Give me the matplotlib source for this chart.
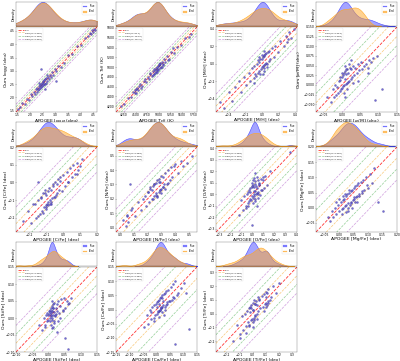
import numpy as np
import matplotlib
matplotlib.use("Agg")
import matplotlib.pyplot as plt
import seaborn as sns
from matplotlib.patches import Patch

# ---------------- data ----------------

logg_true = [1.52, 1.60, 1.70, 1.80, 1.90, 1.98, 2.05, 2.10, 2.15, 2.20,
             2.23, 2.26, 2.29, 2.32, 2.35, 2.37, 2.39, 2.41, 2.43, 2.45,
             2.46, 2.48, 2.50, 2.52, 2.53, 2.55, 2.57, 2.59, 2.61, 2.63,
             2.65, 2.68, 2.71, 2.74, 2.78, 2.82, 2.87, 2.92, 2.98, 3.05,
             3.12, 3.22, 3.35, 3.50, 3.68, 3.85, 4.02, 4.18, 4.30, 4.38,
             4.43, 4.47, 4.50, 4.53, 4.56, 2.44, 2.58, 2.36, 2.67, 3.02]
logg_pred = [1.55, 1.62, 1.78, 1.76, 1.95, 1.92, 2.12, 2.04, 2.22, 2.14,
             2.30, 2.20, 2.36, 2.26, 2.42, 2.30, 2.46, 2.35, 2.50, 2.40,
             2.55, 2.42, 2.58, 2.46, 2.62, 2.50, 2.64, 2.52, 2.70, 2.56,
             2.72, 2.62, 2.78, 2.68, 2.84, 2.76, 2.95, 2.85, 3.05, 2.98,
             3.18, 3.15, 3.30, 3.58, 3.62, 3.92, 3.98, 4.25, 4.32, 4.42,
             4.40, 4.52, 4.46, 4.58, 4.55, 3.08, 2.32, 2.55, 2.85, 2.62]

teff_true = [4180, 4260, 4330, 4400, 4450, 4490, 4520, 4560, 4600, 4640,
             4680, 4720, 4760, 4790, 4820, 4850, 4870, 4890, 4910, 4930,
             4945, 4960, 4975, 4990, 5005, 5020, 5035, 5050, 5070, 5090,
             5110, 5140, 5170, 5210, 5260, 5320, 5400, 5480, 5560, 5650,
             4480, 4510, 4540, 4925, 4955, 4985, 5015, 4900, 5060, 4880,
             4950, 5000, 4820, 5100, 4700, 5200, 4580, 4620, 5300, 5700]
teff_pred = [4200, 4240, 4360, 4380, 4490, 4470, 4560, 4540, 4650, 4610,
             4720, 4690, 4800, 4760, 4860, 4820, 4910, 4850, 4950, 4900,
             4990, 4930, 5020, 4960, 5050, 4990, 5080, 5010, 5110, 5060,
             5160, 5100, 5230, 5170, 5310, 5290, 5420, 5460, 5600, 5620,
             4530, 4470, 4580, 4880, 5010, 4940, 5070, 4960, 5000, 4840,
             4900, 5060, 4870, 5040, 4760, 5140, 4620, 4570, 5380, 5680]

mh_true = [-0.50, -0.45, -0.40, -0.36, -0.32, -0.28, -0.25, -0.22, -0.19, -0.16,
           -0.14, -0.12, -0.10, -0.09, -0.08, -0.07, -0.06, -0.05, -0.04, -0.03,
           -0.02, -0.01, 0.00, 0.00, 0.01, 0.01, 0.02, 0.02, 0.03, 0.03,
           0.04, 0.04, 0.05, 0.05, 0.06, 0.07, 0.08, 0.09, 0.10, 0.12,
           0.14, 0.16, 0.19, 0.22, 0.26, 0.29, 0.31, 0.33, 0.35, 0.38,
           -0.02, 0.00, 0.02, -0.05, 0.06, -0.10, 0.03, -0.03, 0.01, 0.30]
mh_pred = [-0.44, -0.50, -0.32, -0.42, -0.26, -0.20, -0.32, -0.15, -0.24, -0.10,
           -0.20, -0.05, -0.16, -0.02, -0.12, -0.14, 0.00, -0.10, 0.02, -0.08,
           0.05, -0.06, 0.06, -0.04, 0.08, -0.03, 0.09, -0.05, 0.10, -0.01,
           0.11, 0.00, 0.12, 0.01, 0.00, 0.14, 0.03, 0.15, 0.05, 0.18,
           0.08, 0.20, 0.14, 0.26, 0.20, 0.32, 0.28, 0.36, 0.30, 0.40,
           -0.12, 0.10, -0.08, 0.04, -0.04, -0.22, 0.15, 0.08, -0.12, 0.25]

am_true = [-0.04, -0.03, -0.025, -0.02, -0.018, -0.015, -0.012, -0.01, -0.008, -0.006,
           -0.004, -0.002, 0.0, 0.001, 0.002, 0.004, 0.005, 0.006, 0.008, 0.01,
           0.011, 0.012, 0.014, 0.015, 0.016, 0.018, 0.02, 0.022, 0.024, 0.026,
           0.028, 0.03, 0.033, 0.036, 0.04, 0.044, 0.048, 0.052, 0.056, 0.06,
           0.065, 0.07, 0.075, 0.08, 0.085, 0.09, 0.095, 0.11, 0.005, 0.01,
           0.0, 0.015, 0.02, -0.005, 0.03, 0.008, 0.012, 0.025, 0.045, 0.07]
am_pred = [-0.03, -0.045, -0.01, -0.03, 0.0, -0.025, -0.005, -0.02, 0.01, -0.015,
           0.012, -0.01, 0.02, -0.008, 0.025, -0.004, 0.03, 0.0, 0.015, 0.035,
           0.002, 0.028, 0.004, 0.04, 0.008, 0.032, 0.01, 0.045, 0.015, 0.04,
           0.02, 0.05, 0.025, 0.045, 0.03, 0.055, 0.038, 0.06, 0.042, 0.05,
           0.055, 0.045, 0.065, 0.06, 0.07, -0.04, 0.075, -0.01, -0.02, 0.05,
           0.03, -0.01, 0.055, 0.02, 0.005, -0.03, 0.04, 0.065, 0.01, 0.03]

cfe_true = [-0.24, -0.21, -0.19, -0.17, -0.16, -0.15, -0.14, -0.13, -0.125, -0.12,
            -0.115, -0.11, -0.105, -0.10, -0.10, -0.095, -0.09, -0.09, -0.085, -0.08,
            -0.075, -0.07, -0.065, -0.06, -0.055, -0.05, -0.045, -0.04, -0.035, -0.03,
            -0.025, -0.02, -0.01, 0.0, 0.01, 0.02, 0.03, 0.04, 0.05, 0.06,
            0.07, 0.08, 0.09, 0.10, 0.11, -0.12, -0.10, -0.08, -0.06, -0.11,
            -0.09, -0.07, -0.13, -0.05, -0.15, -0.02, 0.03, -0.18, 0.08, -0.15]
cfe_pred = [-0.22, -0.16, -0.23, -0.12, -0.20, -0.10, -0.18, -0.08, -0.16, -0.06,
            -0.14, -0.04, -0.13, -0.07, -0.15, -0.12, -0.05, -0.11, -0.03, -0.10,
            -0.12, -0.04, -0.09, -0.02, -0.08, 0.0, -0.07, -0.01, -0.06, 0.02,
            -0.04, 0.03, -0.05, 0.04, -0.02, 0.06, 0.0, 0.08, 0.03, 0.10,
            0.05, 0.11, 0.07, 0.09, 0.13, -0.17, -0.14, -0.12, -0.01, -0.06,
            -0.13, -0.11, -0.09, -0.08, -0.19, 0.01, 0.0, -0.12, 0.05, 0.0]

nfe_true = [0.02, 0.04, 0.05, 0.06, 0.07, 0.09, 0.11, 0.13, 0.15, 0.17,
            0.19, 0.20, 0.21, 0.22, 0.23, 0.24, 0.25, 0.25, 0.26, 0.26,
            0.27, 0.27, 0.28, 0.28, 0.29, 0.29, 0.30, 0.30, 0.31, 0.31,
            0.32, 0.33, 0.34, 0.35, 0.36, 0.37, 0.38, 0.40, 0.42, 0.44,
            0.46, 0.49, 0.52, 0.27, 0.25, 0.30, 0.22, 0.33, 0.28, 0.24,
            0.05, 0.08, 0.35, 0.20, 0.18, 0.26, 0.31, 0.29, 0.39, 0.23]
nfe_pred = [0.05, 0.01, 0.08, 0.04, 0.30, 0.14, 0.08, 0.18, 0.12, 0.20,
            0.15, 0.25, 0.18, 0.27, 0.20, 0.29, 0.22, 0.30, 0.24, 0.31,
            0.22, 0.33, 0.25, 0.34, 0.26, 0.32, 0.27, 0.36, 0.28, 0.35,
            0.30, 0.38, 0.30, 0.40, 0.33, 0.42, 0.35, 0.44, 0.38, 0.46,
            0.43, 0.45, 0.50, 0.21, 0.30, 0.24, 0.28, 0.27, 0.32, 0.20,
            0.09, 0.12, 0.31, 0.25, 0.22, 0.23, 0.28, 0.26, 0.43, 0.26]

ofe_true = [-0.12, -0.10, -0.08, -0.07, -0.06, -0.05, -0.04, -0.035, -0.03, -0.025,
            -0.02, -0.015, -0.01, -0.005, 0.0, 0.0, 0.005, 0.01, 0.01, 0.015,
            0.02, 0.02, 0.025, 0.025, 0.03, 0.03, 0.035, 0.04, 0.04, 0.045,
            0.05, 0.055, 0.06, 0.065, 0.07, 0.08, 0.09, 0.10, 0.11, 0.12,
            0.14, 0.16, 0.35, 0.02, 0.0, 0.03, 0.01, 0.05, -0.02, 0.04,
            0.015, 0.06, -0.04, 0.08, 0.025, 0.0, -0.06, 0.10, 0.035, 0.05]
ofe_pred = [-0.18, -0.05, -0.14, -0.02, -0.10, 0.0, -0.08, 0.02, -0.06, 0.04,
            -0.04, 0.05, -0.05, 0.06, -0.02, 0.10, 0.08, -0.03, 0.12, 0.0,
            0.14, -0.02, 0.09, 0.03, 0.11, -0.04, 0.07, 0.15, 0.01, 0.05,
            0.12, 0.0, 0.08, 0.10, -0.01, 0.13, 0.04, 0.15, 0.05, 0.16,
            0.08, 0.20, 0.37, 0.06, -0.27, 0.18, -0.08, 0.02, 0.02, -0.10,
            0.03, 0.09, -0.10, 0.04, -0.06, 0.07, -0.12, 0.12, 0.0, -0.03]

mgfe_true = [-0.04, -0.03, -0.025, -0.02, -0.015, -0.01, -0.005, 0.0, 0.005, 0.01,
             0.012, 0.015, 0.018, 0.02, 0.022, 0.025, 0.028, 0.03, 0.032, 0.035,
             0.038, 0.04, 0.042, 0.045, 0.048, 0.05, 0.052, 0.055, 0.058, 0.06,
             0.063, 0.066, 0.07, 0.074, 0.078, 0.082, 0.087, 0.092, 0.098, 0.105,
             0.112, 0.12, 0.15, 0.0, 0.01, 0.02, 0.03, 0.04, 0.05, 0.06,
             -0.01, 0.045, 0.035, 0.055, 0.025, 0.07, 0.08, 0.015, 0.10, 0.135]
mgfe_pred = [-0.03, -0.045, -0.01, -0.03, 0.0, -0.02, 0.01, -0.01, 0.02, -0.005,
             0.025, 0.0, 0.03, 0.005, 0.04, 0.01, 0.045, 0.015, 0.0, 0.05,
             0.01, 0.055, 0.02, 0.06, 0.025, 0.065, 0.03, 0.07, 0.035, 0.075,
             0.04, 0.08, 0.045, 0.085, 0.05, 0.09, 0.06, 0.10, 0.075, 0.11,
             0.08, 0.13, -0.01, 0.03, -0.02, 0.045, -0.01, 0.015, 0.035, 0.02,
             0.02, 0.0, 0.06, 0.02, -0.015, 0.04, 0.055, 0.04, 0.065, 0.02]

sife_true = [-0.03, -0.02, -0.015, -0.01, -0.008, -0.005, -0.003, 0.0, 0.002, 0.004,
             0.005, 0.006, 0.007, 0.008, 0.009, 0.01, 0.01, 0.011, 0.012, 0.013,
             0.014, 0.015, 0.016, 0.017, 0.018, 0.02, 0.022, 0.024, 0.026, 0.028,
             0.03, 0.033, 0.036, 0.04, 0.044, 0.048, 0.052, 0.056, 0.06, 0.065,
             0.07, 0.01, 0.012, 0.008, 0.015, 0.005, 0.02, 0.0, 0.025, 0.011,
             0.05, 0.06, 0.035, 0.014, 0.009, 0.03, -0.01, 0.045, 0.018, 0.003]
sife_pred = [-0.02, -0.035, 0.0, -0.02, 0.01, -0.01, 0.015, -0.005, 0.02, 0.0,
             0.025, -0.01, 0.03, 0.005, -0.02, 0.035, 0.0, 0.02, -0.005, 0.04,
             0.01, 0.028, -0.015, 0.018, 0.045, 0.005, 0.03, 0.012, 0.04, 0.02,
             0.05, 0.015, 0.035, 0.055, 0.025, 0.06, 0.03, 0.05, 0.04, 0.045,
             0.06, -0.03, 0.022, 0.015, -0.025, 0.018, 0.01, 0.01, -0.04, 0.05,
             -0.06, -0.09, 0.0, 0.03, 0.008, -0.01, -0.025, 0.02, -0.008, 0.012]

cafe_true = [-0.045, -0.035, -0.03, -0.025, -0.02, -0.015, -0.01, -0.008, -0.005, -0.002,
             0.0, 0.002, 0.004, 0.006, 0.008, 0.01, 0.012, 0.014, 0.016, 0.018,
             0.02, 0.022, 0.024, 0.026, 0.028, 0.03, 0.033, 0.036, 0.04, 0.044,
             0.048, 0.052, 0.056, 0.06, 0.065, 0.07, 0.075, 0.08, 0.09, 0.10,
             0.12, 0.07, 0.01, 0.02, 0.0, 0.015, 0.025, 0.005, 0.03, 0.012,
             0.04, -0.01, 0.05, 0.018, 0.022, 0.035, -0.02, 0.06, 0.008, 0.11]
cafe_pred = [-0.06, -0.02, -0.05, 0.0, -0.035, 0.01, -0.03, 0.015, -0.02, 0.02,
             -0.015, 0.025, -0.01, 0.03, -0.005, 0.035, 0.0, 0.04, 0.005, 0.045,
             0.01, 0.05, 0.015, 0.055, -0.02, 0.06, 0.0, 0.065, 0.02, 0.07,
             0.03, 0.08, 0.035, 0.09, 0.04, 0.10, 0.05, 0.06, 0.075, 0.095,
             -0.07, -0.12, 0.02, -0.01, 0.01, 0.005, 0.03, -0.005, 0.01, 0.0,
             0.025, -0.04, 0.03, 0.01, 0.04, 0.015, -0.01, 0.045, -0.025, 0.06]

tife_true = [-0.15, -0.12, -0.10, -0.08, -0.07, -0.06, -0.05, -0.04, -0.035, -0.03,
             -0.025, -0.02, -0.015, -0.01, -0.005, 0.0, 0.0, 0.005, 0.01, 0.01,
             0.015, 0.02, 0.025, 0.03, 0.035, 0.04, 0.045, 0.05, 0.06, 0.07,
             0.08, 0.09, 0.095, 0.10, 0.10, 0.105, 0.11, 0.115, 0.12, 0.13,
             0.14, 0.16, 0.18, 0.20, 0.0, -0.01, 0.01, 0.02, -0.02, 0.03,
             0.0, 0.10, -0.03, 0.05, 0.11, -0.05, 0.015, 0.09, -0.10, 0.12]
tife_pred = [-0.20, -0.08, -0.15, -0.02, -0.12, 0.0, -0.09, 0.02, -0.06, 0.04,
             -0.08, 0.05, -0.05, 0.06, -0.04, 0.08, -0.06, 0.03, 0.10, -0.03,
             0.07, -0.02, 0.09, 0.0, 0.06, 0.12, 0.02, 0.10, 0.04, 0.13,
             0.05, 0.14, 0.07, 0.16, 0.08, 0.12, 0.06, 0.18, 0.09, 0.10,
             0.12, 0.20, 0.15, 0.22, -0.10, 0.04, -0.05, 0.07, 0.01, -0.04,
             0.03, 0.05, -0.09, 0.11, 0.15, -0.14, -0.01, 0.02, -0.18, 0.08]

names  = [r"$\log g$", r"$T_{\rm eff}$", "[M/H]", r"[$\alpha$/M]", "[C/Fe]", "[N/Fe]",
          "[O/Fe]", "[Mg/Fe]", "[Si/Fe]", "[Ca/Fe]", "[Ti/Fe]"]
units  = ["dex", "K", "dex", "dex", "dex", "dex", "dex", "dex", "dex", "dex", "dex"]
sigmas = [0.097, 57.0, 0.068, 0.024, 0.047, 0.053, 0.068, 0.036, 0.026, 0.040, 0.063]
lims   = [(1.45, 4.65), (4080, 5820), (-0.55, 0.42), (-0.07, 0.15), (-0.28, 0.20),
          (-0.03, 0.56), (-0.33, 0.41), (-0.08, 0.20), (-0.10, 0.15), (-0.15, 0.15),
          (-0.28, 0.34)]
trues = [logg_true, teff_true, mh_true, am_true, cfe_true, nfe_true,
         ofe_true, mgfe_true, sife_true, cafe_true, tife_true]
preds = [logg_pred, teff_pred, mh_pred, am_pred, cfe_pred, nfe_pred,
         ofe_pred, mgfe_pred, sife_pred, cafe_pred, tife_pred]

# ---------------- figure ----------------

W, H = 400, 361
fig = plt.figure(figsize=(W / 20, H / 20), dpi=20)

C_TRUE = "#4a4aff"
C_PRED = "#ffa726"
sig_cols = ["#f5a623", "#4caf50", "#b05cc8"]

for i in range(len(names)):
    c, r = i % 4, i // 4
    x0 = c * 100 + 16
    top = r * 120 + 2
    kax = fig.add_axes([x0 / W, 1 - (top + 24) / H, 81 / W, 24 / H])
    sax = fig.add_axes([x0 / W, 1 - (top + 110) / H, 81 / W, 85 / H])

    t = np.array(trues[i], dtype=float)
    p = np.array(preds[i], dtype=float)
    lo, hi = lims[i]
    s = sigmas[i]

    # marginal KDEs
    sns.kdeplot(x=t, ax=kax, fill=True, color=C_TRUE, alpha=0.5, linewidth=2, bw_adjust=0.8)
    sns.kdeplot(x=p, ax=kax, fill=True, color=C_PRED, alpha=0.5, linewidth=2, bw_adjust=0.8)
    kax.set_xlim(lo, hi)
    kax.set_ylim(0, kax.get_ylim()[1] * 0.95)
    kax.set_xticks([]); kax.set_yticks([])
    kax.set_xlabel("")
    kax.set_ylabel("Density", fontsize=13, labelpad=2)
    kax.legend(handles=[Patch(color=C_TRUE, alpha=0.7, label="True"),
                        Patch(color=C_PRED, alpha=0.7, label="Pred")],
               loc="upper right", fontsize=9, frameon=True, handlelength=1.5)

    # scatter + reference lines
    xx = np.array([lo, hi])
    sax.plot(xx, xx, ls="--", color="red", lw=3, alpha=0.8, label="y=x")
    for k in range(1, 4):
        col = sig_cols[k - 1]
        lab = f"±{k}σ (σ={k * s:.3f})" if units[i] == "dex" else f"±{k}σ (σ={k * s:.1f})"
        sax.plot(xx, xx + k * s, ls="--", color=col, lw=2.5, alpha=0.6, label=lab)
        sax.plot(xx, xx - k * s, ls="--", color=col, lw=2.5, alpha=0.6)
    sax.scatter(t, p, s=55, color="#5a4fd0", edgecolor="#222266", linewidth=0.8, alpha=0.85, zorder=3)
    sax.set_xlim(lo, hi); sax.set_ylim(lo, hi)
    sax.set_xlabel(f"APOGEE {names[i]} ({units[i]})", fontsize=16, labelpad=1)
    sax.set_ylabel(f"Ours {names[i]} ({units[i]})", fontsize=16, labelpad=1)
    sax.tick_params(labelsize=11, length=3, width=1, pad=1)
    sax.legend(loc="upper left", fontsize=8, frameon=True, handlelength=2.5)

fig.savefig("out.png", dpi=20)
